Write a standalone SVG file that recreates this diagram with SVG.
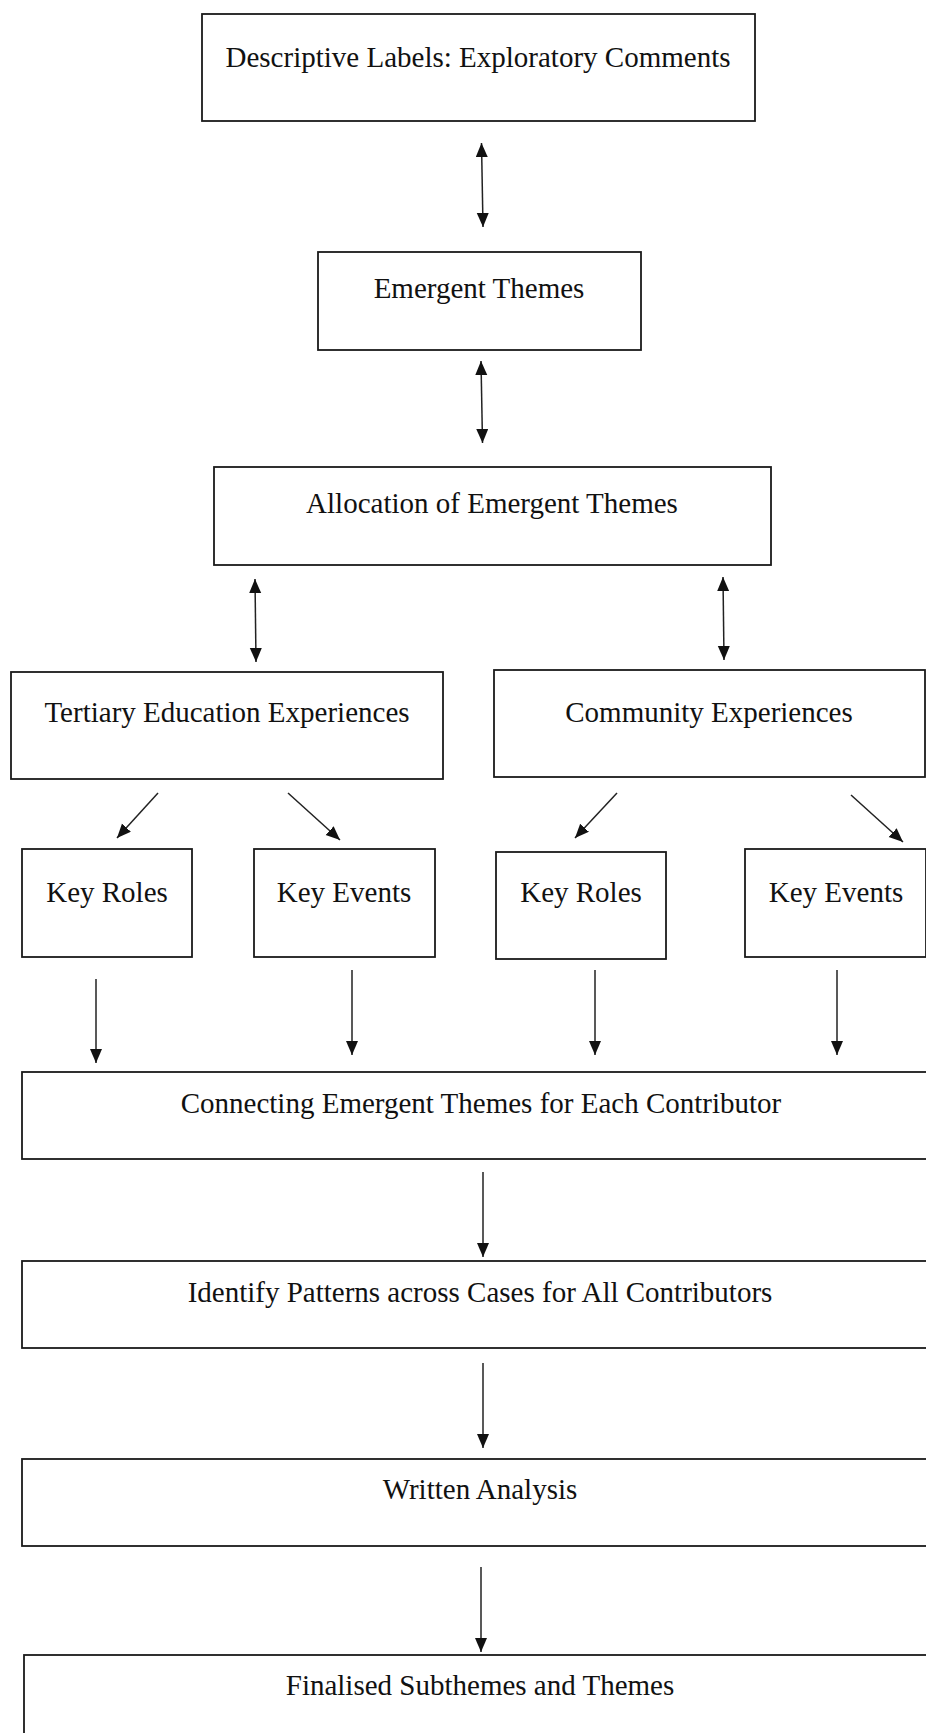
<svg xmlns="http://www.w3.org/2000/svg" width="926" height="1733" viewBox="0 0 926 1733">
<style>
.box{fill:#fff;stroke:#1a1a1a;stroke-width:1.8}
.lbl{font-family:"Liberation Serif","Times New Roman",serif;font-size:29px;fill:#111;text-anchor:middle}
.arr{stroke:#222;stroke-width:1.5;fill:none}
</style>
<defs>
<marker id="ah" markerUnits="userSpaceOnUse" markerWidth="16" markerHeight="14" refX="14" refY="6" orient="auto-start-reverse">
<path d="M0,0 L14,6 L0,12 z" fill="#111"/>
</marker>
</defs>
<rect width="926" height="1733" fill="#fff"/>
<g id="n1"><rect class="box" x="202" y="14" width="553" height="107"/><text class="lbl" x="478" y="67">Descriptive Labels: Exploratory Comments</text></g>
<g id="n2"><rect class="box" x="318" y="252" width="323" height="98"/><text class="lbl" x="479" y="298">Emergent Themes</text></g>
<g id="n3"><rect class="box" x="214" y="467" width="557" height="98"/><text class="lbl" x="492" y="513">Allocation of Emergent Themes</text></g>
<g id="n4"><rect class="box" x="11" y="672" width="432" height="107"/><text class="lbl" x="227" y="722">Tertiary Education Experiences</text></g>
<g id="n5"><rect class="box" x="494" y="670" width="431" height="107"/><text class="lbl" x="709" y="722">Community Experiences</text></g>
<g id="n6"><rect class="box" x="22" y="849" width="170" height="108"/><text class="lbl" x="107" y="902">Key Roles</text></g>
<g id="n7"><rect class="box" x="254" y="849" width="181" height="108"/><text class="lbl" x="344" y="902">Key Events</text></g>
<g id="n8"><rect class="box" x="496" y="852" width="170" height="107"/><text class="lbl" x="581" y="902">Key Roles</text></g>
<g id="n9"><rect class="box" x="745" y="849" width="181" height="108"/><text class="lbl" x="836" y="902">Key Events</text></g>
<g id="n10"><rect class="box" x="22" y="1072" width="918" height="87"/><text class="lbl" x="481" y="1113">Connecting Emergent Themes for Each Contributor</text></g>
<g id="n11"><rect class="box" x="22" y="1261" width="918" height="87"/><text class="lbl" x="480" y="1302">Identify Patterns across Cases for All Contributors</text></g>
<g id="n12"><rect class="box" x="22" y="1459" width="918" height="87"/><text class="lbl" x="480" y="1499">Written Analysis</text></g>
<g id="n13"><rect class="box" x="24" y="1655" width="916" height="100"/><text class="lbl" x="480" y="1695">Finalised Subthemes and Themes</text></g>
<g id="connectors">
<line class="arr" x1="481.5" y1="143" x2="483" y2="227" marker-start="url(#ah)" marker-end="url(#ah)"/>
<line class="arr" x1="481" y1="361" x2="482.5" y2="443" marker-start="url(#ah)" marker-end="url(#ah)"/>
<line class="arr" x1="255" y1="579" x2="256" y2="662" marker-start="url(#ah)" marker-end="url(#ah)"/>
<line class="arr" x1="723" y1="577" x2="724" y2="660" marker-start="url(#ah)" marker-end="url(#ah)"/>
<line class="arr" x1="158" y1="793" x2="117" y2="838" marker-end="url(#ah)"/>
<line class="arr" x1="288" y1="793" x2="340" y2="840" marker-end="url(#ah)"/>
<line class="arr" x1="617" y1="793" x2="575" y2="838" marker-end="url(#ah)"/>
<line class="arr" x1="851" y1="795" x2="903" y2="842" marker-end="url(#ah)"/>
<line class="arr" x1="96" y1="979" x2="96" y2="1063" marker-end="url(#ah)"/>
<line class="arr" x1="352" y1="970" x2="352" y2="1055" marker-end="url(#ah)"/>
<line class="arr" x1="595" y1="970" x2="595" y2="1055" marker-end="url(#ah)"/>
<line class="arr" x1="837" y1="970" x2="837" y2="1055" marker-end="url(#ah)"/>
<line class="arr" x1="483" y1="1172" x2="483" y2="1257" marker-end="url(#ah)"/>
<line class="arr" x1="483" y1="1363" x2="483" y2="1448" marker-end="url(#ah)"/>
<line class="arr" x1="481" y1="1567" x2="481" y2="1652" marker-end="url(#ah)"/>
</g>
</svg>
